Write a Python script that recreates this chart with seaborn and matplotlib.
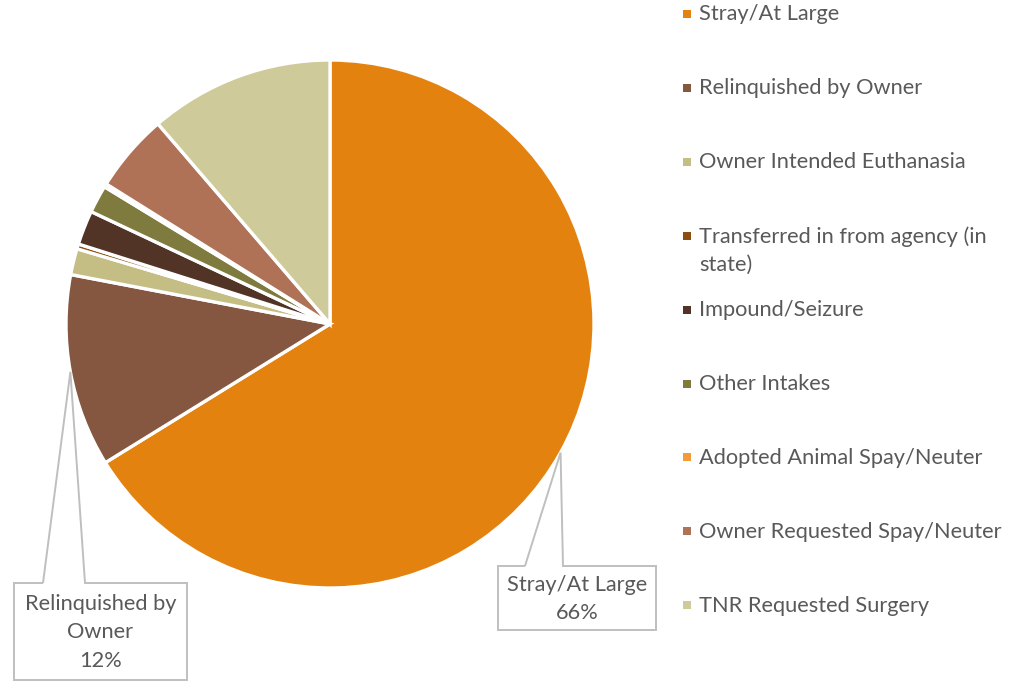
import textwrap
import matplotlib
matplotlib.use("Agg")
import matplotlib.pyplot as plt
import seaborn as sns
import numpy as np
from matplotlib.path import Path
from matplotlib.patches import PathPatch, Rectangle

# ---- data ----
categories = ["Stray/At Large", "Relinquished by Owner", "Owner Intended Euthanasia",
              "Transferred in from agency (in state)", "Impound/Seizure", "Other Intakes",
              "Adopted Animal Spay/Neuter", "Owner Requested Spay/Neuter", "TNR Requested Surgery"]
shares = [66.2, 11.8, 1.6, 0.3, 2.1, 1.7, 0.2, 4.8, 11.3]
colors = ["#E4820F", "#855640", "#C4BE85", "#8C4E10", "#523426",
          "#7F7A3E", "#F39A3A", "#AF7256", "#CECA99"]
callout_categories = ["Stray/At Large", "Relinquished by Owner"]

sns.set_theme(style="white")
plt.rcParams['font.family'] = ['Lato', 'DejaVu Sans']
TEXT = "#595959"
FS = 15.7

W, H = 1009, 681
fig = plt.figure(figsize=(W / 100, H / 100), dpi=100)
cx, cy, r = 330, 324, 264
ax = fig.add_axes([(cx - r) / W, (H - cy - r) / H, 2 * r / W, 2 * r / H])
palette = sns.color_palette(colors)
wedges, _ = ax.pie(shares, colors=palette, startangle=90, counterclock=False, radius=1,
                   wedgeprops=dict(edgecolor="white", linewidth=2.4))
ax.set_xlim(-1, 1)
ax.set_ylim(-1, 1)
ax.set_aspect("equal")
ax.axis("off")


def px2d(px, py):
    return ((px - cx) / r, (cy - py) / r)


total = sum(shares)
# callout layout (pixel boxes): left, right, top, bottom, base1, base2
boxes = {
    "Stray/At Large": (498, 656, 566, 630, 525, 563),
    "Relinquished by Owner": (14, 187, 583, 680, 43, 85),
}
for cat in callout_categories:
    i = categories.index(cat)
    w = wedges[i]
    mid = np.deg2rad((w.theta1 + w.theta2) / 2)
    anchor = (np.cos(mid), np.sin(mid))
    L, R, T, B, b1, b2 = boxes[cat]
    verts = [px2d(b1, T), px2d(L, T), px2d(L, B), px2d(R, B), px2d(R, T), px2d(b2, T), anchor,
             px2d(b1, T)]
    codes = [Path.MOVETO] + [Path.LINETO] * (len(verts) - 1)
    ax.add_patch(PathPatch(Path(verts, codes), facecolor="none", edgecolor="#BFBFBF",
                           lw=1.4, clip_on=False, joinstyle="miter"))
    pct = round(shares[i] / total * 100)
    label = textwrap.fill(cat, 15) + f"\n{pct}%"
    tx, ty = px2d((L + R) / 2, (T + B) / 2 + 1)
    ax.text(tx, ty, label, ha="center", va="center", fontsize=FS, color=TEXT,
            linespacing=1.55, clip_on=False)

# legend (manual, Excel-like spacing)
lax = fig.add_axes([0, 0, 1, 1])
lax.set_xlim(0, W)
lax.set_ylim(H, 0)
lax.axis("off")
for k, (cat, col) in enumerate(zip(categories, palette)):
    yc = 14 + k * 73.9
    lax.add_patch(Rectangle((683, yc - 4), 8, 8, facecolor=col, edgecolor="none"))
    lax.text(699, yc - 9.5, textwrap.fill(cat, 30), ha="left", va="top", fontsize=FS,
             color=TEXT, linespacing=1.5)

fig.savefig("out.png", dpi=100)
